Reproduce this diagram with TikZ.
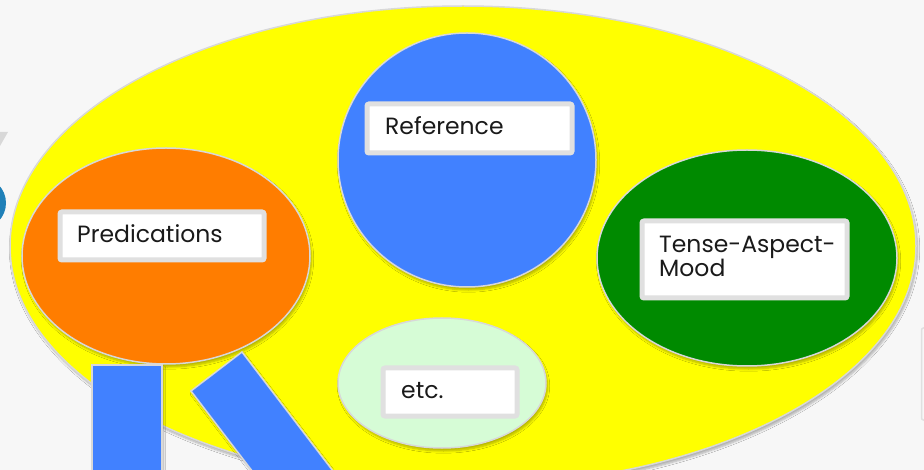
\documentclass[tikz,border=0pt]{standalone}
\usepackage{fontspec}
\setmainfont{Poppins}
\usetikzlibrary{shapes.geometric,shadows.blur}
\definecolor{bgc}{HTML}{F7F7F7}
\definecolor{yel}{HTML}{FFFF00}
\definecolor{blu}{HTML}{4181FF}
\definecolor{ora}{HTML}{FF7D00}
\definecolor{grn}{HTML}{008A00}
\definecolor{lgr}{HTML}{D6FCD6}
\definecolor{edge}{HTML}{D8D8D8}
\definecolor{boxedge}{HTML}{E0E0E0}
\definecolor{txt}{HTML}{1A1A1A}
\definecolor{teal}{HTML}{1F80B8}
\tikzset{
  blob/.style={ellipse, draw=edge, line width=1.5pt, inner sep=0pt,
    blur shadow={shadow xshift=1.5pt, shadow yshift=-3pt, shadow blur steps=6, shadow opacity=30}},
  labelbox/.style={rectangle, draw=boxedge, fill=white, line width=5pt, rounded corners=2pt, inner sep=0pt, anchor=north west},
  labeltext/.style={anchor=base west, inner sep=0pt, text=txt, font=\fontsize{23.5}{24}\selectfont, align=left},
  bar/.style={fill=blu, draw=edge, line width=1.5pt,
    blur shadow={shadow xshift=1.5pt, shadow yshift=-3pt, shadow blur steps=6, shadow opacity=30}}
}
\begin{document}
\begin{tikzpicture}[x=1pt,y=-1pt]
\useasboundingbox (0,0) rectangle (924,470);
\clip (0,0) rectangle (924,470);
\fill[bgc] (0,0) rectangle (924,470);
% edge fragments
\fill[edge] (0,132) -- (8,132) -- (0,146) -- cycle;
\fill[teal] (-20,203) circle (26);
\draw[boxedge, line width=1.5pt, rounded corners=2pt] (921.5,328) rectangle (940,420);
% big yellow ellipse
\node[blob, fill=yel, minimum width=906pt, minimum height=480pt] (all) at (463,246) {};
% inner ellipses
\node[blob, fill=ora, minimum width=288pt, minimum height=216pt] (pred) at (166,256) {};
\node[blob, fill=blu, minimum width=258pt, minimum height=254pt] (ref) at (467,160) {};
\node[blob, fill=grn, minimum width=300pt, minimum height=216pt] (tam) at (747,258) {};
\node[blob, fill=lgr, minimum width=208pt, minimum height=130pt] (etc) at (442,383) {};
% blue bars
\filldraw[bar] (92,365) rectangle (162,500);
\filldraw[bar] (242,352) -- (191,391) -- (312.4,549.8) -- (363.4,510.8) -- cycle;
% label boxes
\node[labelbox, minimum width=205pt, minimum height=49pt] (refbox) at (364.5,101.5) {};
\node[labeltext] (reftext) at (385,135) {Reference};
\node[labelbox, minimum width=204pt, minimum height=48pt] (predbox) at (57.5,209.5) {};
\node[labeltext] (predtext) at (77,243) {Predications};
\node[labelbox, minimum width=205pt, minimum height=77pt] (tambox) at (639.5,218.5) {};
\node[labeltext] (tamtext) at (659,277) {Tense-Aspect-\\Mood};
\node[labelbox, minimum width=134pt, minimum height=48pt] (etcbox) at (380.5,365.5) {};
\node[labeltext] (etctext) at (401,399) {etc.};
\end{tikzpicture}
\end{document}
